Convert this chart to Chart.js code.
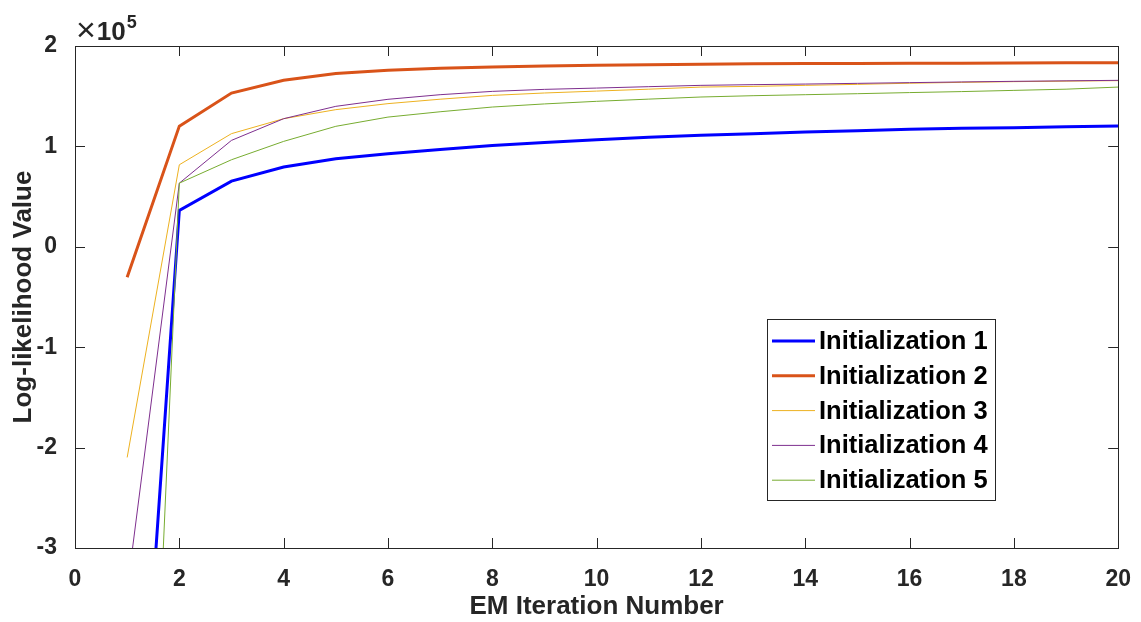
<!DOCTYPE html>
<html>
<head>
<meta charset="utf-8">
<title>EM Log-likelihood</title>
<script src="https://cdn.jsdelivr.net/npm/chart.js@4/dist/chart.umd.min.js"></script>
<style>
  html, body { margin: 0; padding: 0; background: #fff; }
  #wrap { width: 1141px; height: 622px; }
</style>
</head>
<body>
<div id="wrap"><canvas id="llChart" width="1141" height="622"></canvas></div>
<script>
// --- DATA ---
const iterations = [1, 2, 3, 4, 5, 6, 7, 8, 9, 10, 11, 12, 13, 14, 15, 16, 17, 18, 19, 20];
const seriesNames = ['Initialization 1', 'Initialization 2', 'Initialization 3', 'Initialization 4', 'Initialization 5'];

const init1 = [-716000, 36200, 65400, 79400, 87700, 92700, 97000, 101000, 104000, 106700,
               109000, 111000, 112700, 114300, 115700, 117000, 118000, 118600, 119500, 120200];
const init2 = [-30300, 120200, 153100, 165800, 172500, 175800, 177800, 179100, 180100, 180800,
               181400, 181800, 182200, 182500, 182600, 182700, 182900, 183000, 183200, 183400];
const init3 = [-209800, 81700, 112700, 127600, 136600, 142600, 147000, 150800, 153200, 155100,
               157000, 159100, 159800, 160800, 161800, 162900, 163800, 164500, 165000, 165500];
const init4 = [-342000, 63400, 106000, 127600, 139900, 146900, 151500, 154800, 156800, 158100,
               159500, 160800, 161500, 162100, 162800, 163500, 164200, 164800, 165300, 165800];
const init5 = [-1120000, 63400, 86700, 105000, 120000, 129200, 134500, 139200, 142300, 144900,
               147100, 149200, 150500, 151500, 152500, 153600, 154600, 155800, 157000, 159100];

const xTicks = [0, 2, 4, 6, 8, 10, 12, 14, 16, 18, 20];
const yTicks = [-300000, -200000, -100000, 0, 100000, 200000];

// --- STYLE ---
const FONT = '"Liberation Sans", Arial, Helvetica, sans-serif';
const TEXT_COLOR = '#262626';
const colors = ['#0000ff', '#d95319', '#edb120', '#7e2f8e', '#77ac30'];
const widths = [3, 3, 1, 1, 1];

const allSeries = [init1, init2, init3, init4, init5];

const datasets = allSeries.map((vals, i) => ({
    label: seriesNames[i],
    data: iterations.map((it, k) => ({ x: it, y: vals[k] })),
    borderColor: colors[i],
    backgroundColor: colors[i],
    borderWidth: widths[i],
    pointRadius: 0,
    tension: 0,
    fill: false,
    order: allSeries.length - i   // later series on top
}));

// box + inward ticks + exponent + legend
const matlabAxes = {
    id: 'matlabAxes',
    afterDatasetsDraw(chart) {
        const { ctx, chartArea: a, scales } = chart;
        const tl = 10;
        ctx.save();
        ctx.strokeStyle = TEXT_COLOR;
        ctx.lineWidth = 1;
        ctx.beginPath();
        xTicks.forEach(v => {
            const px = Math.round(scales.x.getPixelForValue(v)) + 0.5;
            ctx.moveTo(px, a.bottom); ctx.lineTo(px, a.bottom - tl);
            ctx.moveTo(px, a.top); ctx.lineTo(px, a.top + tl);
        });
        yTicks.forEach(v => {
            const py = Math.round(scales.y.getPixelForValue(v)) + 0.5;
            ctx.moveTo(a.left, py); ctx.lineTo(a.left + tl, py);
            ctx.moveTo(a.right, py); ctx.lineTo(a.right - tl, py);
        });
        ctx.stroke();
        ctx.strokeRect(Math.round(a.left) + 0.5, Math.round(a.top) + 0.5,
                       Math.round(a.right - a.left), Math.round(a.bottom - a.top));

        // x10^5 multiplier
        ctx.fillStyle = TEXT_COLOR;
        ctx.textBaseline = 'alphabetic';
        ctx.textAlign = 'left';
        ctx.font = '34px ' + FONT;
        ctx.fillText('\u00d7', a.left + 1, a.top - 5);
        let x = a.left + 1 + ctx.measureText('\u00d7').width + 1;
        ctx.font = 'bold 26px ' + FONT;
        ctx.fillText('10', x, a.top - 6);
        x += ctx.measureText('10').width + 1;
        ctx.font = 'bold 18px ' + FONT;
        ctx.fillText('5', x, a.top - 18);

        // legend
        const lx = 767.5, ly = 319.5, lw = 228, lh = 181;
        ctx.fillStyle = '#fff';
        ctx.fillRect(lx, ly, lw, lh);
        ctx.strokeStyle = '#262626';
        ctx.lineWidth = 1;
        ctx.strokeRect(lx, ly, lw, lh);
        ctx.font = 'bold 25.5px ' + FONT;
        ctx.textBaseline = 'middle';
        chart.data.datasets.forEach((ds, i) => {
            const y = 341 + i * 34.8;
            ctx.strokeStyle = ds.borderColor;
            ctx.lineWidth = ds.borderWidth;
            ctx.beginPath();
            ctx.moveTo(772, y); ctx.lineTo(815, y);
            ctx.stroke();
            ctx.fillStyle = '#000';
            ctx.fillText(ds.label, 819, y + 1);
        });
        ctx.restore();
    }
};

new Chart(document.getElementById('llChart').getContext('2d'), {
    type: 'line',
    data: { datasets },
    options: {
        responsive: false,
        animation: false,
        layout: { padding: { top: 46, right: 20, left: 0, bottom: 0 } },
        plugins: {
            legend: { display: false },
            tooltip: { enabled: false }
        },
        scales: {
            x: {
                type: 'linear',
                min: 0,
                max: 20,
                afterBuildTicks: s => { s.ticks = xTicks.map(v => ({ value: v })); },
                afterFit: s => { s.height = 74; },
                grid: { display: false },
                border: { display: false },
                ticks: {
                    padding: 10,
                    color: TEXT_COLOR,
                    font: { family: FONT, size: 23, weight: 'bold' },
                    maxRotation: 0
                },
                title: {
                    display: true,
                    text: 'EM Iteration Number',
                    color: TEXT_COLOR,
                    font: { family: FONT, size: 26, weight: 'bold', lineHeight: 1.2 },
                    padding: { top: 0, bottom: 0 }
                }
            },
            y: {
                min: -300000,
                max: 200000,
                afterBuildTicks: s => { s.ticks = yTicks.map(v => ({ value: v })); },
                afterFit: s => { s.width = 75; },
                grid: { display: false },
                border: { display: false },
                ticks: {
                    padding: 10,
                    color: TEXT_COLOR,
                    font: { family: FONT, size: 23, weight: 'bold' },
                    callback: v => String(v / 100000)
                },
                title: {
                    display: true,
                    text: 'Log-likelihood Value',
                    color: TEXT_COLOR,
                    font: { family: FONT, size: 26, weight: 'bold', lineHeight: 1.2 },
                    padding: { top: 8, bottom: 0 }
                }
            }
        }
    },
    plugins: [matlabAxes]
});
</script>
</body>
</html>
